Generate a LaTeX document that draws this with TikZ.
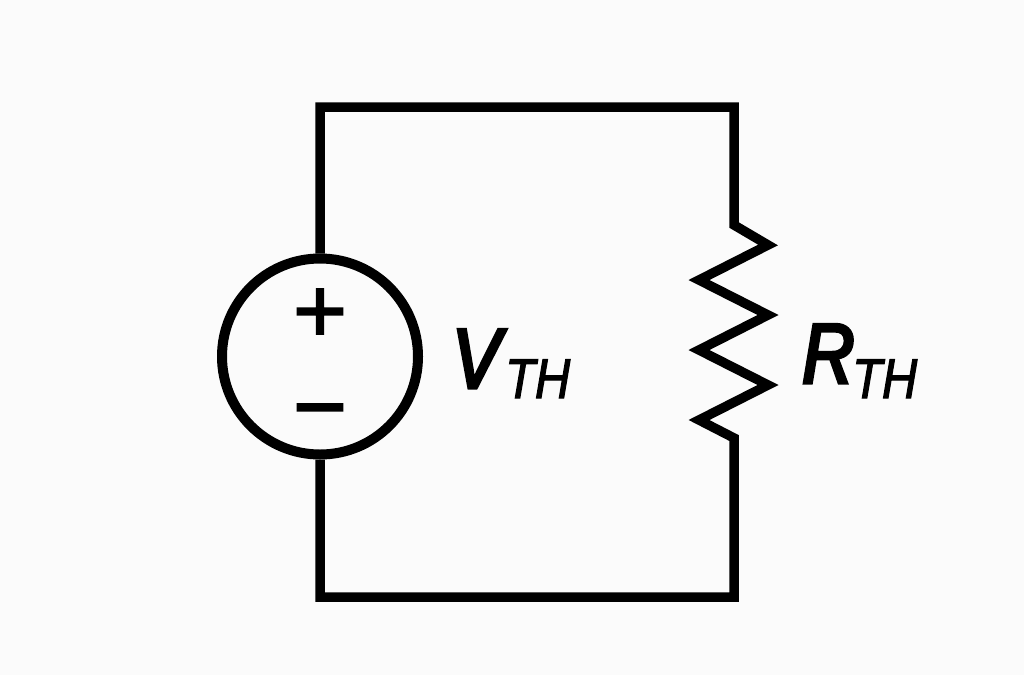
\documentclass[tikz,border=0pt]{standalone}
\usepackage{fontspec}
\setmainfont{Liberation Sans}
\newfontfamily\symfont[FakeBold=2]{Liberation Sans}
\newfontfamily\mainlabelfont[FakeStretch=0.85,FakeBold=4,ItalicFont={Liberation Sans Italic},ItalicFeatures={FakeStretch=0.85,FakeBold=4}]{Liberation Sans}
\newfontfamily\sublabelfont[FakeStretch=0.87,FakeBold=2,ItalicFont={Liberation Sans Italic},ItalicFeatures={FakeStretch=0.87,FakeBold=2}]{Liberation Sans}
\definecolor{paper}{HTML}{FBFBFB}
\tikzset{
  wire/.style={line width=9.5pt,line join=miter,miter limit=10,black},
  source/.style={circle,draw=black,line width=10pt,minimum size=196pt,inner sep=0pt},
  sign/.style={inner sep=0pt,anchor=center,font=\fontsize{92pt}{92pt}\symfont},
  mainlabel/.style={inner sep=0pt,anchor=base west,font=\fontsize{85pt}{85pt}\mainlabelfont\itshape},
  sublabel/.style={inner sep=0pt,anchor=base west,font=\fontsize{56pt}{56pt}\sublabelfont\itshape}
}
\begin{document}
\begin{tikzpicture}[x=1pt,y=-1pt]
\fill[paper] (0,0) rectangle (1024,675);
\useasboundingbox (0,0) rectangle (1024,675);
\node[source] (vs) at (320,356.5) {};
\coordinate (tl) at (320,107);
\coordinate (tr) at (734,107);
\coordinate (bl) at (320,597);
\coordinate (br) at (734,597);
\coordinate (r1) at (734,225);
\coordinate (r2) at (734,438);
\draw[wire] (vs.north) -- (tl) -- (tr) -- (r1) -- (768,245) -- (699,280) -- (768,315) -- (699,350) -- (768,385) -- (699,420) -- (r2) -- (br) -- (bl) -- (vs.south);
\node[sign] (plus) at (320,315.5) {+};
\node[sign] (minus) at (320,421) {−};
\node[mainlabel] (vl) at (452,388) {V};
\node[sublabel] (vsub) at (505,398) {TH};
\node[mainlabel] (rl) at (802,383) {R};
\node[sublabel] (rsub) at (852,398) {TH};
\end{tikzpicture}
\end{document}
